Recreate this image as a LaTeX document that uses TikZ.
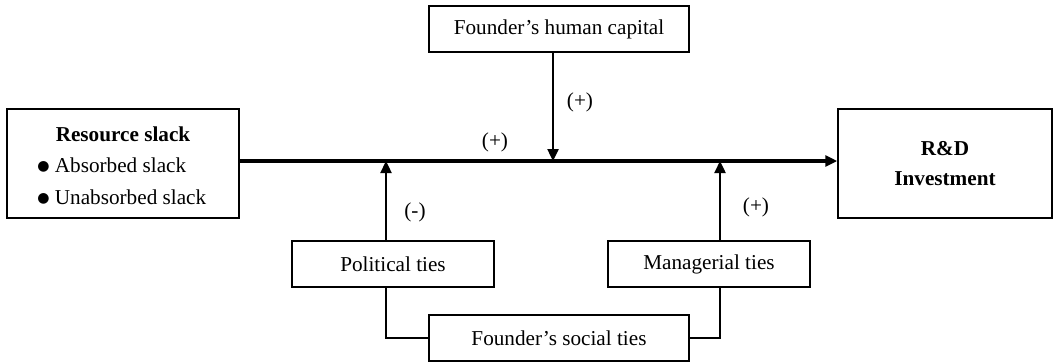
\documentclass[tikz,border=0pt]{standalone}
\usepackage{fontspec}
\setmainfont{Liberation Serif}
\newfontfamily\symfont{DejaVu Sans}
\usetikzlibrary{arrows.meta}
\newcommand{\blt}{\raisebox{0.6pt}{\symfont\fontsize{7}{7}\selectfont ●}}
\tikzset{
  box/.style={draw=black,line width=0.75pt,inner sep=0pt,align=center,font=\fontsize{10.6}{15}\selectfont},
  txt/.style={inner sep=0pt,font=\fontsize{10.6}{15}\selectfont},
  mainarr/.style={line width=1.7pt,-{Triangle[length=6pt,width=5.5pt]}},
  modarr/.style={line width=1.2pt,-{Triangle[length=6pt,width=5.5pt]}},
  tie/.style={line width=1pt}
}
\begin{document}
\begin{tikzpicture}[x=0.5pt,y=-0.5pt]
\useasboundingbox (0,0) rectangle (1054,361);
% boxes
\node[box,minimum width=116pt,minimum height=54.5pt] (rs) at (123,163.5) {};
\node[txt] (rstitle) at (123,134) {\textbf{Resource slack}};
\node[txt,anchor=west] (rsa) at (37,165) {\blt\ Absorbed slack};
\node[txt,anchor=west] (rsb) at (37,197) {\blt\ Unabsorbed slack};
\node[box,minimum width=107pt,minimum height=54.5pt,font=\fontsize{10.6}{15}\selectfont\bfseries] (rd) at (945,163.5) {R\&D\\Investment};
\node[box,minimum width=130pt,minimum height=23pt] (hc) at (559,29) {Founder’s human capital};
\node[box,minimum width=101pt,minimum height=23pt] (pt) at (393,264) {Political ties};
\node[box,minimum width=101pt,minimum height=23pt] (mt) at (709,264) {Managerial ties};
\node[box,minimum width=130pt,minimum height=23pt] (st) at (559,338) {Founder’s social ties};
% main effect
\coordinate (m1) at (553,161);
\coordinate (m2) at (386,161);
\coordinate (m3) at (720,161);
\draw[mainarr] (rs.east |- m1) -- (rd.west |- m1);
% moderators
\draw[modarr] (hc.south -| m1) -- (m1);
\draw[modarr] (pt.north -| m2) -- (m2);
\draw[modarr] (mt.north -| m3) -- (m3);
\draw[tie] (st.west) -| (pt.south -| m2);
\draw[tie] (st.east) -| (mt.south -| m3);
% signs
\node[txt] (lmain) at (495,142) {(+)};
\node[txt] (lhc) at (580,102) {(+)};
\node[txt] (lpt) at (415,212) {(-)};
\node[txt] (lmt) at (756,207) {(+)};
\end{tikzpicture}
\end{document}
